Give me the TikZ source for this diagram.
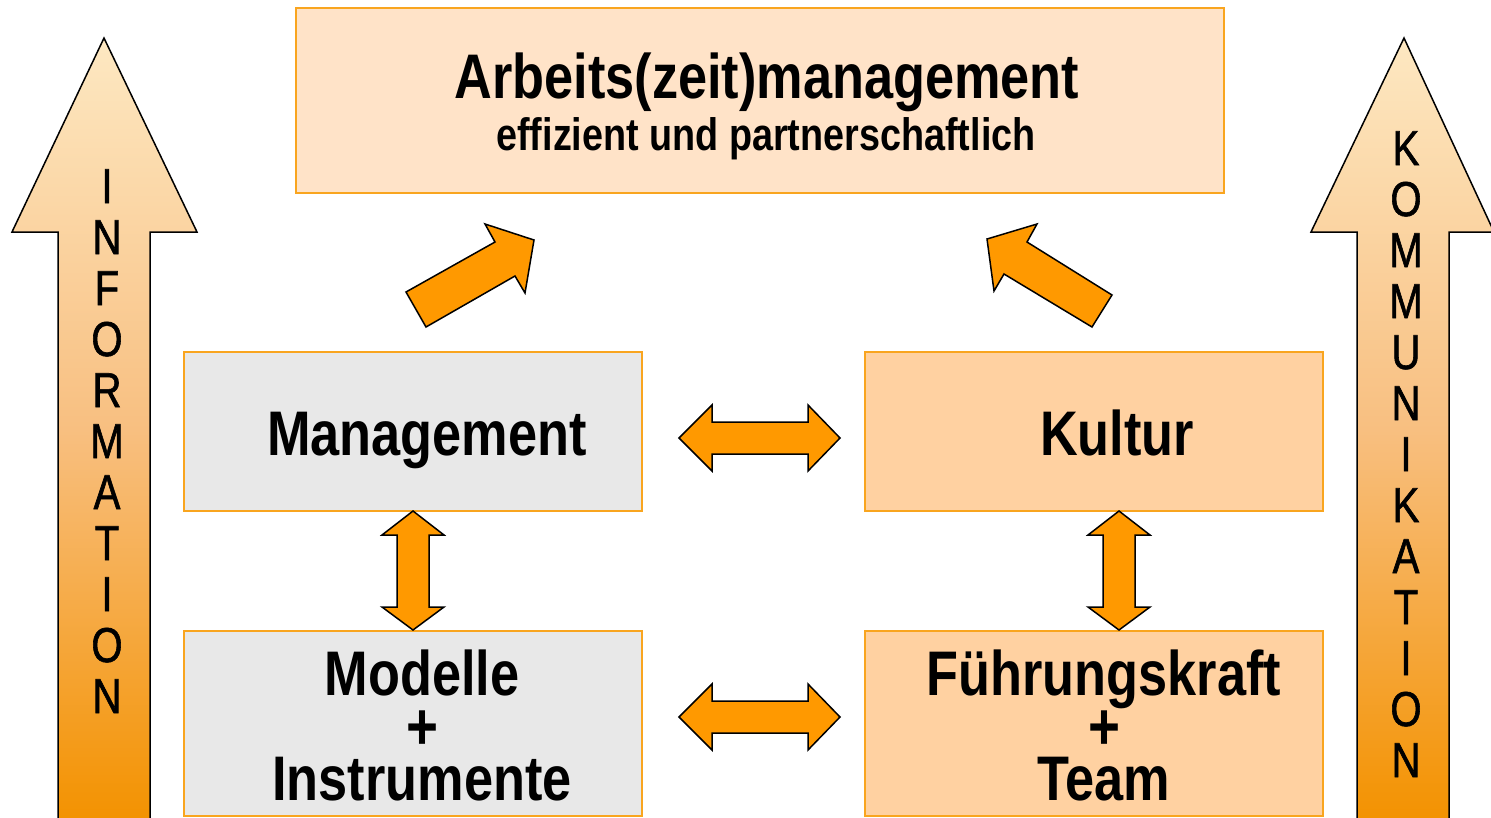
\documentclass[tikz,border=0pt]{standalone}
\usepackage{fontspec}
\setmainfont{Liberation Sans}
\newfontfamily\cond[FakeStretch=0.83]{Liberation Sans}
\newfontfamily\condl[FakeStretch=0.82,FakeBold=1.2]{Liberation Sans}
\definecolor{boxline}{HTML}{F9A51F}
\definecolor{peach}{HTML}{FFE3C8}
\definecolor{kult}{HTML}{FFD1A1}
\definecolor{greybox}{HTML}{E8E8E8}
\definecolor{arr}{HTML}{FF9900}
\definecolor{gtop}{HTML}{FDE8C2}
\definecolor{gmid}{HTML}{F8BF80}
\definecolor{gbot}{HTML}{F39200}
\begin{document}
\begin{tikzpicture}[x=1pt,y=-1pt,
  box/.style={draw=boxline,line width=1.5pt,inner sep=0pt},
  arrowshape/.style={fill=arr,draw=black,line width=1.5pt,line join=miter},
  bigarrow/.style={draw=black,line width=1.5pt,line join=miter,top color=gtop,bottom color=gbot,middle color=gmid},
  big/.style={font=\cond\bfseries\fontsize{63}{63}\selectfont,inner sep=0pt,anchor=base},
  sub/.style={font=\cond\bfseries\fontsize{45.5}{45.5}\selectfont,inner sep=0pt,anchor=base},
  plus/.style={font=\cond\bfseries\fontsize{66}{66}\selectfont,inner sep=0pt,anchor=center},
  vlet/.style={font=\condl\fontsize{49}{49}\selectfont,inner sep=0pt,anchor=base}]
\useasboundingbox (0,0) rectangle (1491,817);

% big side arrows
\path[bigarrow] (104,38) -- (197,232) -- (150,232) -- (150,822) -- (58,822) -- (58,232) -- (12,232) -- cycle;
\path[bigarrow] (1404,38) -- (1494,232) -- (1449,232) -- (1449,822) -- (1357,822) -- (1357,232) -- (1311,232) -- cycle;
\foreach \c [count=\i] in {I,N,F,O,R,M,A,T,I,O,N}
  \node[vlet] (inf\i) at (107,{203+(\i-1)*51}) {\c};
\foreach \c [count=\i] in {K,O,M,M,U,N,I,K,A,T,I,O,N}
  \node[vlet] (kom\i) at (1406,{165+(\i-1)*51}) {\c};

% boxes
\node[box,fill=peach,minimum width=928,minimum height=185] (top) at (760,100.5) {};
\node[box,fill=greybox,minimum width=458,minimum height=159] (man) at (413,431.5) {};
\node[box,fill=kult,minimum width=458,minimum height=159] (kul) at (1094,431.5) {};
\node[box,fill=greybox,minimum width=458,minimum height=185] (mod) at (413,723.5) {};
\node[box,fill=kult,minimum width=458,minimum height=185] (fue) at (1094,723.5) {};

% texts
\node[big] (t1) at (767,98) {Arbeits(zeit)management};
\node[sub] (t2) at (766,150) {effizient und partnerschaftlich};
\node[big] (t3) at (427,455) {Management};
\node[big] (t4) at (1117,455) {Kultur};
\node[big] (t5) at (422,695) {Modelle};
\node[plus] (t6) at (422,730) {+};
\node[big] (t7) at (422,800) {Instrumente};
\node[big] (t8) at (1104,695) {Führungskraft};
\node[plus] (t9) at (1104,730) {+};
\node[big] (t10) at (1104,800) {Team};

% diagonal arrows
\path[arrowshape] (406,292) -- (495,242) -- (485,224) -- (534,240) -- (525,293) -- (515,276) -- (426,327) -- cycle;
\path[arrowshape] (1112,295) -- (1027,242) -- (1037,224) -- (987,239) -- (994,291) -- (1004,274) -- (1092,327) -- cycle;

% horizontal double arrows
\foreach \yc in {438,717}
  \path[arrowshape] (679,\yc) -- (712,\yc-33) -- (712,\yc-16) -- (808,\yc-16) -- (808,\yc-33) -- (840,\yc) -- (808,\yc+33) -- (808,\yc+16) -- (712,\yc+16) -- (712,\yc+33) -- cycle;
% vertical double arrows
\foreach \xc in {413,1119}
  \path[arrowshape] (\xc,511) -- (\xc+31,535) -- (\xc+16,535) -- (\xc+16,607) -- (\xc+31,607) -- (\xc,630) -- (\xc-31,607) -- (\xc-16,607) -- (\xc-16,535) -- (\xc-31,535) -- cycle;
\end{tikzpicture}
\end{document}
